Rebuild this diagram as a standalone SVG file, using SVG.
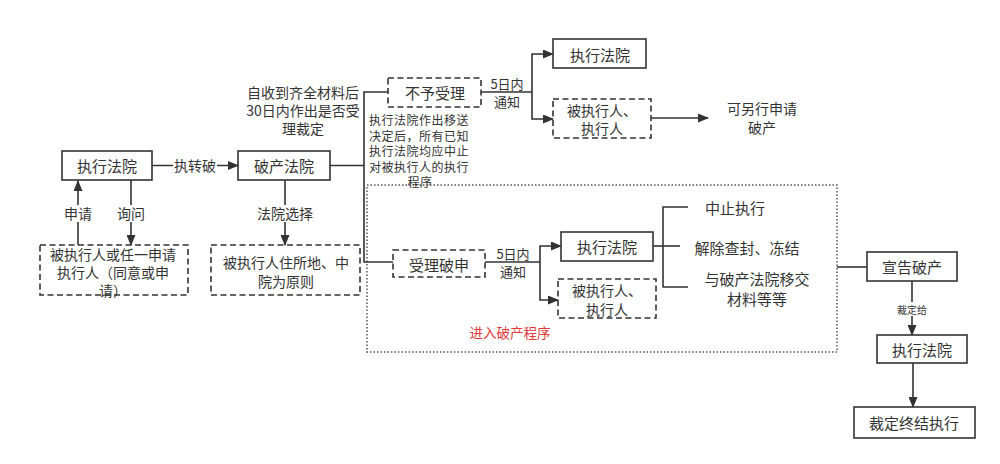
<svg xmlns="http://www.w3.org/2000/svg" width="1000" height="464" viewBox="0 0 1000 464">
<defs>
<marker id="arr" markerUnits="userSpaceOnUse" markerWidth="11" markerHeight="9" refX="10" refY="4.5" orient="auto">
<path d="M0,0 L11,4.5 L0,9 z" fill="#333"/>
</marker>
<style>
text{font-family:"Noto Sans CJK SC","Liberation Sans",sans-serif;fill:#333;text-anchor:middle;dominant-baseline:central}
.box{fill:#fff;stroke:#333;stroke-width:1.6}
.dbox{fill:none;stroke:#333;stroke-width:1.6;stroke-dasharray:6 3.5}
.ln{fill:none;stroke:#333;stroke-width:1.6}
.ar{fill:none;stroke:#333;stroke-width:1.6;marker-end:url(#arr)}
.t15{font-size:15px}
.t14{font-size:14px}
.t13{font-size:13px}
.t12{font-size:12px;letter-spacing:0.5px}
.lbg{fill:#fff}
</style>
</defs>
<rect width="1000" height="464" fill="#fff"/>

<g id="region-bankrupt">
<rect x="367" y="185" width="470" height="167" fill="none" stroke="#555" stroke-width="1.5" stroke-dasharray="1.5 2"/>
<text x="510" y="332" font-size="13.5" style="fill:#e03a3a">进入破产程序</text>
</g>

<g id="connectors">
<line class="ar" x1="152" y1="165.5" x2="238" y2="165.5"/>
<rect class="lbg" x="173" y="157" width="44" height="17"/>
<text class="t14" x="195" y="165">执转破</text>
<line class="ar" x1="78" y1="245" x2="78" y2="181"/>
<rect class="lbg" x="62" y="205" width="32" height="17"/>
<text class="t14" x="78" y="213">申请</text>
<line class="ar" x1="131" y1="180" x2="131" y2="245"/>
<rect class="lbg" x="115" y="205" width="32" height="17"/>
<text class="t14" x="131" y="213">询问</text>
<line class="ar" x1="285" y1="180" x2="285" y2="245"/>
<rect class="lbg" x="254" y="205" width="62" height="17"/>
<text class="t14" x="285" y="213">法院选择</text>
<polyline class="ln" points="330,165.5 364,165.5"/>
<polyline class="ln" points="388,92 364,92 364,262 393,262"/>
<polyline class="ln" points="481,92 532,92"/>
<polyline class="ar" points="532,92 532,54 553,54"/>
<polyline class="ar" points="532,92 532,119 553,119"/>
<text class="t13" x="507" y="83">5日内<tspan x="507" dy="17.5">通知</tspan></text>
<line class="ar" x1="651" y1="118" x2="708" y2="118"/>
<polyline class="ln" points="485,262 540,262"/>
<polyline class="ar" points="540,262 540,246 561,246"/>
<polyline class="ar" points="540,262 540,300 558,300"/>
<text class="t13" x="513" y="253">5日内<tspan x="513" dy="17.5">通知</tspan></text>
<polyline class="ln" points="653,246 680,246"/>
<polyline class="ln" points="688,207 663,207 663,287 688,287"/>
<line class="ln" x1="837" y1="267" x2="867" y2="267"/>
<line class="ar" x1="912" y1="281" x2="912" y2="335"/>
<rect class="lbg" x="896" y="302" width="32" height="14"/>
<text x="912" y="309" font-size="10">裁定给</text>
<line class="ar" x1="913" y1="363" x2="913" y2="407"/>
</g>

<g id="n-exec-court-1">
<rect class="box" x="62" y="151" width="90" height="29"/>
<text class="t15" x="107" y="165">执行法院</text>
</g>
<g id="n-bankrupt-court">
<rect class="box" x="238" y="151" width="92" height="29"/>
<text class="t15" x="284" y="165">破产法院</text>
</g>
<g id="n-applicant">
<text class="t14" x="113" y="254">被执行人或任一申请<tspan x="113" dy="18">执行人（同意或申</tspan><tspan x="113" dy="18">请）</tspan></text>
<rect class="dbox" x="40" y="245" width="148" height="50"/>
</g>
<g id="n-principle">
<rect class="dbox" x="211" y="245" width="149" height="50"/>
<text class="t14" x="286" y="262">被执行人住所地、中<tspan x="286" dy="19">院为原则</tspan></text>
</g>
<g id="n-note-30days">
<text class="t14" x="303" y="91.5">自收到齐全材料后<tspan x="303" dy="18">30日内作出是否受</tspan><tspan x="303" dy="18">理裁定</tspan></text>
</g>
<g id="n-note-transfer">
<text class="t12" x="419" y="119">执行法院作出移送<tspan x="419" dy="15.5">决定后，所有已知</tspan><tspan x="419" dy="15.5">执行法院均应中止</tspan><tspan x="419" dy="15.5">对被执行人的执行</tspan><tspan x="420" dy="15.5">程序</tspan></text>
</g>
<g id="n-reject">
<rect class="dbox" x="388" y="78" width="93" height="29"/>
<text class="t15" x="435" y="92">不予受理</text>
</g>
<g id="n-exec-court-2">
<rect class="box" x="553" y="39" width="93" height="29"/>
<text class="t15" x="600" y="54">执行法院</text>
</g>
<g id="n-parties-1">
<rect class="dbox" x="553" y="99" width="98" height="39"/>
<text class="t14" x="602" y="110">被执行人、<tspan x="602" dy="18">执行人</tspan></text>
</g>
<g id="n-reapply">
<text class="t14" x="762" y="108">可另行申请<tspan x="762" dy="19">破产</tspan></text>
</g>
<g id="n-accept">
<rect class="dbox" x="393" y="250" width="92" height="27"/>
<text class="t15" x="439" y="264">受理破申</text>
</g>
<g id="n-exec-court-3">
<rect class="box" x="561" y="232" width="92" height="29"/>
<text class="t15" x="607" y="246">执行法院</text>
</g>
<g id="n-parties-2">
<rect class="dbox" x="558" y="279" width="98" height="39"/>
<text class="t14" x="607" y="290">被执行人、<tspan x="607" dy="19">执行人</tspan></text>
</g>
<g id="n-suspend">
<text class="t15" x="735" y="207">中止执行</text>
</g>
<g id="n-release">
<text class="t15" x="747" y="247">解除查封、冻结</text>
</g>
<g id="n-handover">
<text class="t15" x="757" y="278">与破产法院移交<tspan x="757" dy="20">材料等等</tspan></text>
</g>
<g id="n-declare">
<rect class="box" x="867" y="252" width="90" height="29"/>
<text class="t15" x="912" y="266">宣告破产</text>
</g>
<g id="n-exec-court-4">
<rect class="box" x="877" y="335" width="90" height="28"/>
<text class="t15" x="922" y="349">执行法院</text>
</g>
<g id="n-terminate">
<rect class="box" x="854" y="407" width="121" height="31"/>
<text class="t15" x="914" y="422">裁定终结执行</text>
</g>
</svg>
